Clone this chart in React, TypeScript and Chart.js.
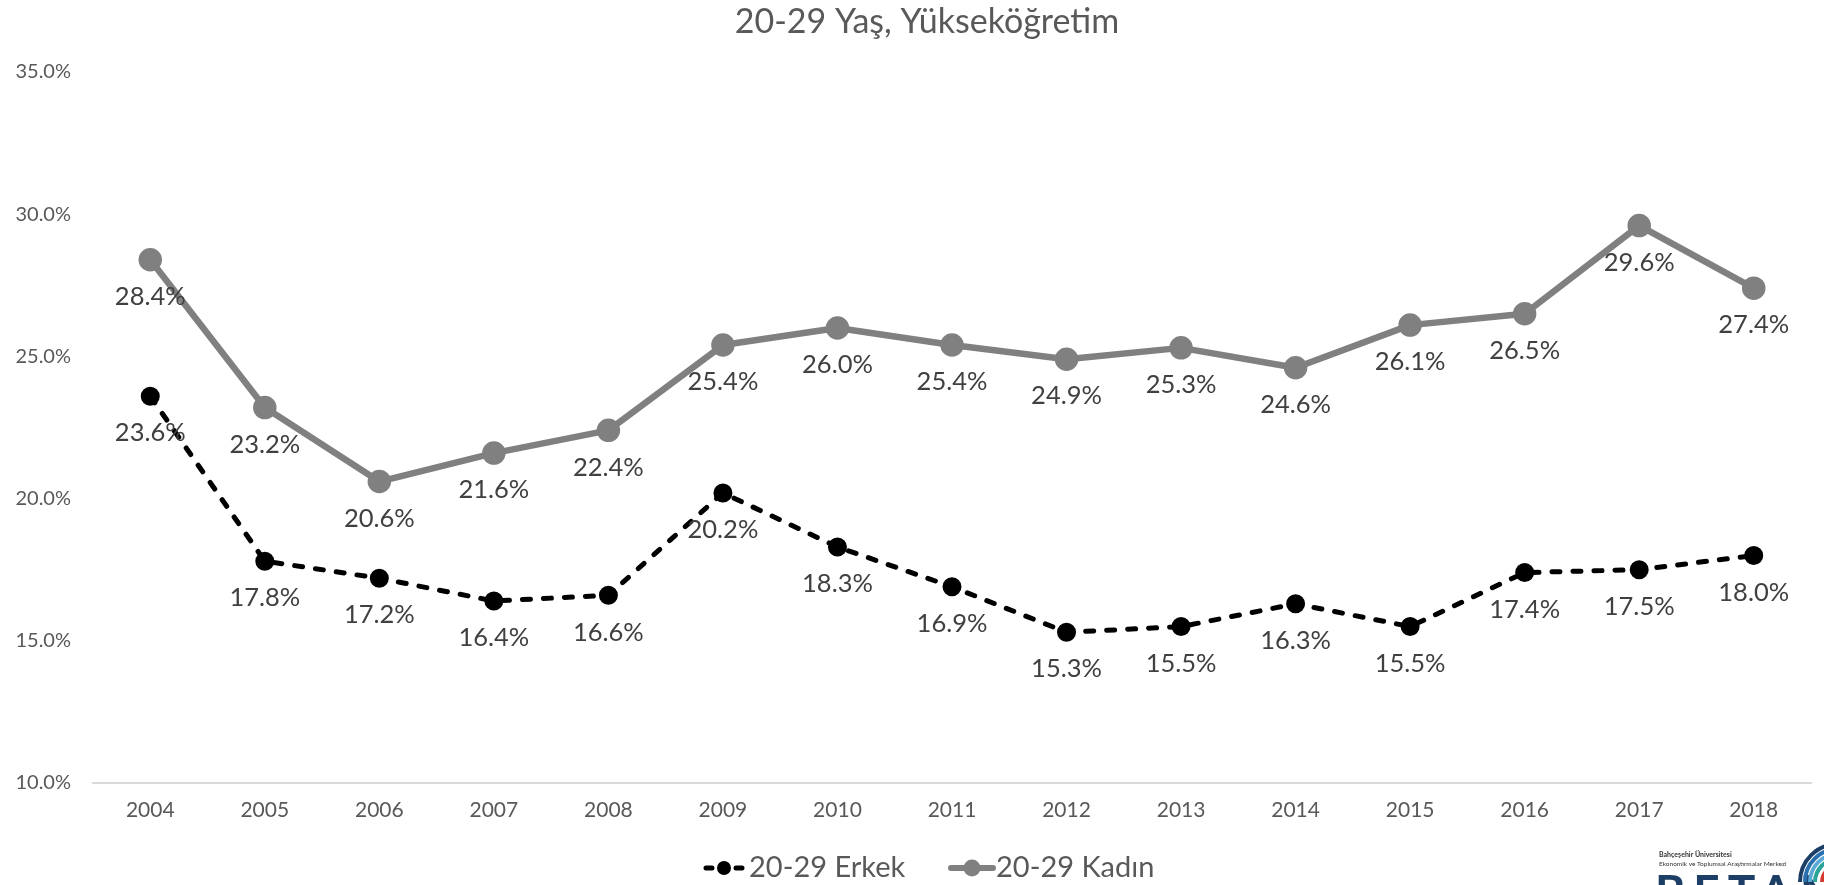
import React, { useEffect, useRef } from 'react';
import { Chart, registerables } from 'chart.js';

Chart.register(...registerables);

const years = ['2004', '2005', '2006', '2007', '2008', '2009', '2010', '2011', '2012', '2013', '2014', '2015', '2016', '2017', '2018'];
const erkek = [23.6, 17.8, 17.2, 16.4, 16.6, 20.2, 18.3, 16.9, 15.3, 15.5, 16.3, 15.5, 17.4, 17.5, 18.0];
const kadin = [28.4, 23.2, 20.6, 21.6, 22.4, 25.4, 26.0, 25.4, 24.9, 25.3, 24.6, 26.1, 26.5, 29.6, 27.4];
const seriesNames = ['20-29 Erkek', '20-29 Kadın'];
const titleText = '20-29 Yaş, Yükseköğretim';
const yMin = 10;
const yMax = 35;
const yStep = 5;

const FONT = 'Lato, "Open Sans", sans-serif';

const overlayPlugin = {
  id: 'overlay',
  afterDatasetsDraw(chart: any) {
    const ctx = chart.ctx;
    ctx.save();
    ctx.font = `25.5px ${FONT}`;
    ctx.fillStyle = '#404040';
    ctx.textAlign = 'center';
    ctx.textBaseline = 'middle';
    chart.data.datasets.forEach((ds: any, i: number) => {
      const meta = chart.getDatasetMeta(i);
      meta.data.forEach((pt: any, j: number) => {
        ctx.fillText(`${Number(ds.data[j]).toFixed(1)}%`, pt.x, pt.y + 37);
      });
    });
    ctx.restore();
  },
  afterDraw(chart: any) {
    const ctx = chart.ctx;
    ctx.save();
    // title
    ctx.font = `34px ${FONT}`;
    ctx.fillStyle = '#595959';
    ctx.textAlign = 'center';
    ctx.textBaseline = 'middle';
    ctx.fillText(titleText, 927, 22);

    // legend
    const ly = 868;
    ctx.lineCap = 'round';
    ctx.strokeStyle = '#000000';
    ctx.lineWidth = 5;
    ctx.beginPath();
    ctx.moveTo(706, ly);
    ctx.lineTo(712, ly);
    ctx.moveTo(736, ly);
    ctx.lineTo(742, ly);
    ctx.stroke();
    ctx.fillStyle = '#000000';
    ctx.beginPath();
    ctx.arc(724, ly, 7, 0, Math.PI * 2);
    ctx.fill();

    ctx.strokeStyle = '#808080';
    ctx.lineWidth = 6;
    ctx.beginPath();
    ctx.moveTo(951, ly);
    ctx.lineTo(993, ly);
    ctx.stroke();
    ctx.fillStyle = '#808080';
    ctx.beginPath();
    ctx.arc(972, ly, 8.5, 0, Math.PI * 2);
    ctx.fill();

    ctx.font = `29px ${FONT}`;
    ctx.fillStyle = '#595959';
    ctx.textAlign = 'left';
    ctx.textBaseline = 'middle';
    ctx.fillText(seriesNames[0], 749, ly);
    ctx.fillText(seriesNames[1], 996, ly);

    // logo
    ctx.fillStyle = '#333333';
    ctx.textBaseline = 'alphabetic';
    ctx.font = `bold 7px ${FONT}`;
    ctx.fillText('Bahçeşehir Üniversitesi', 1659, 857);
    ctx.font = `6.5px ${FONT}`;
    ctx.fillText('Ekonomik ve Toplumsal Araştırmalar Merkezi', 1659, 866);
    ctx.fillStyle = '#1d3f66';
    ctx.font = `bold 46px ${FONT}`;
    try { (ctx as any).letterSpacing = '8px'; } catch (e) {}
    ctx.fillText('BETAM', 1655, 908);
    try { (ctx as any).letterSpacing = '0px'; } catch (e) {}
    const cx = 1838;
    const cy = 882;
    const arcs = [
      { r: 38, c: '#1d3f66' },
      { r: 33, c: '#2a6fb0' },
      { r: 28, c: '#5aa9d6' },
      { r: 23, c: '#2aa39a' },
    ];
    ctx.lineCap = 'butt';
    arcs.forEach((a) => {
      ctx.strokeStyle = a.c;
      ctx.lineWidth = 4;
      ctx.beginPath();
      ctx.arc(cx, cy, a.r, Math.PI, Math.PI * 2);
      ctx.stroke();
    });
    ctx.fillStyle = '#d63a2f';
    ctx.beginPath();
    ctx.arc(cx, cy, 18, Math.PI, Math.PI * 2);
    ctx.fill();
    ctx.restore();
  },
};

export default function App() {
  const canvasRef = useRef<HTMLCanvasElement | null>(null);

  useEffect(() => {
    if (!canvasRef.current) return;
    const chart = new Chart(canvasRef.current, {
      type: 'line',
      data: {
        labels: years,
        datasets: [
          {
            label: seriesNames[0],
            data: erkek,
            borderColor: '#000000',
            backgroundColor: '#000000',
            borderWidth: 5,
            borderDash: [8, 13],
            borderCapStyle: 'round',
            pointRadius: 7,
            pointHoverRadius: 7,
            pointBackgroundColor: '#000000',
            pointBorderColor: '#000000',
            tension: 0,
          },
          {
            label: seriesNames[1],
            data: kadin,
            borderColor: '#808080',
            backgroundColor: '#808080',
            borderWidth: 6.5,
            borderCapStyle: 'round',
            borderJoinStyle: 'round',
            pointRadius: 8.5,
            pointHoverRadius: 8.5,
            pointBackgroundColor: '#808080',
            pointBorderColor: '#808080',
            tension: 0,
          },
        ],
      },
      options: {
        animation: false,
        responsive: true,
        maintainAspectRatio: false,
        layout: { padding: { top: 72, left: 0, right: 0, bottom: 42 } },
        plugins: {
          legend: { display: false },
          title: { display: false },
          tooltip: { enabled: false },
        },
        scales: {
          x: {
            type: 'category',
            offset: true,
            grid: { display: false, drawTicks: false },
            border: { display: true, color: '#d9d9d9', width: 2 },
            ticks: {
              color: '#595959',
              font: { family: FONT, size: 21 },
              padding: 15,
              maxRotation: 0,
              autoSkip: false,
            },
            afterFit: (s: any) => { s.height = 60; },
          },
          y: {
            min: yMin,
            max: yMax,
            grid: { display: false, drawTicks: false },
            border: { display: false },
            ticks: {
              stepSize: yStep,
              color: '#595959',
              font: { family: FONT, size: 20 },
              padding: 22,
              callback: (v: any) => `${Number(v).toFixed(1)}%`,
            },
            afterFit: (s: any) => { s.width = 93; },
          },
        },
      },
      plugins: [overlayPlugin],
    });
    return () => chart.destroy();
  }, []);

  return (
    <div style={{ position: 'fixed', left: 0, top: 0, width: 1824, height: 885, overflow: 'hidden', background: '#ffffff' }}>
      <div style={{ position: 'relative', width: 1826, height: 885 }}>
        <canvas ref={canvasRef} />
      </div>
    </div>
  );
}
